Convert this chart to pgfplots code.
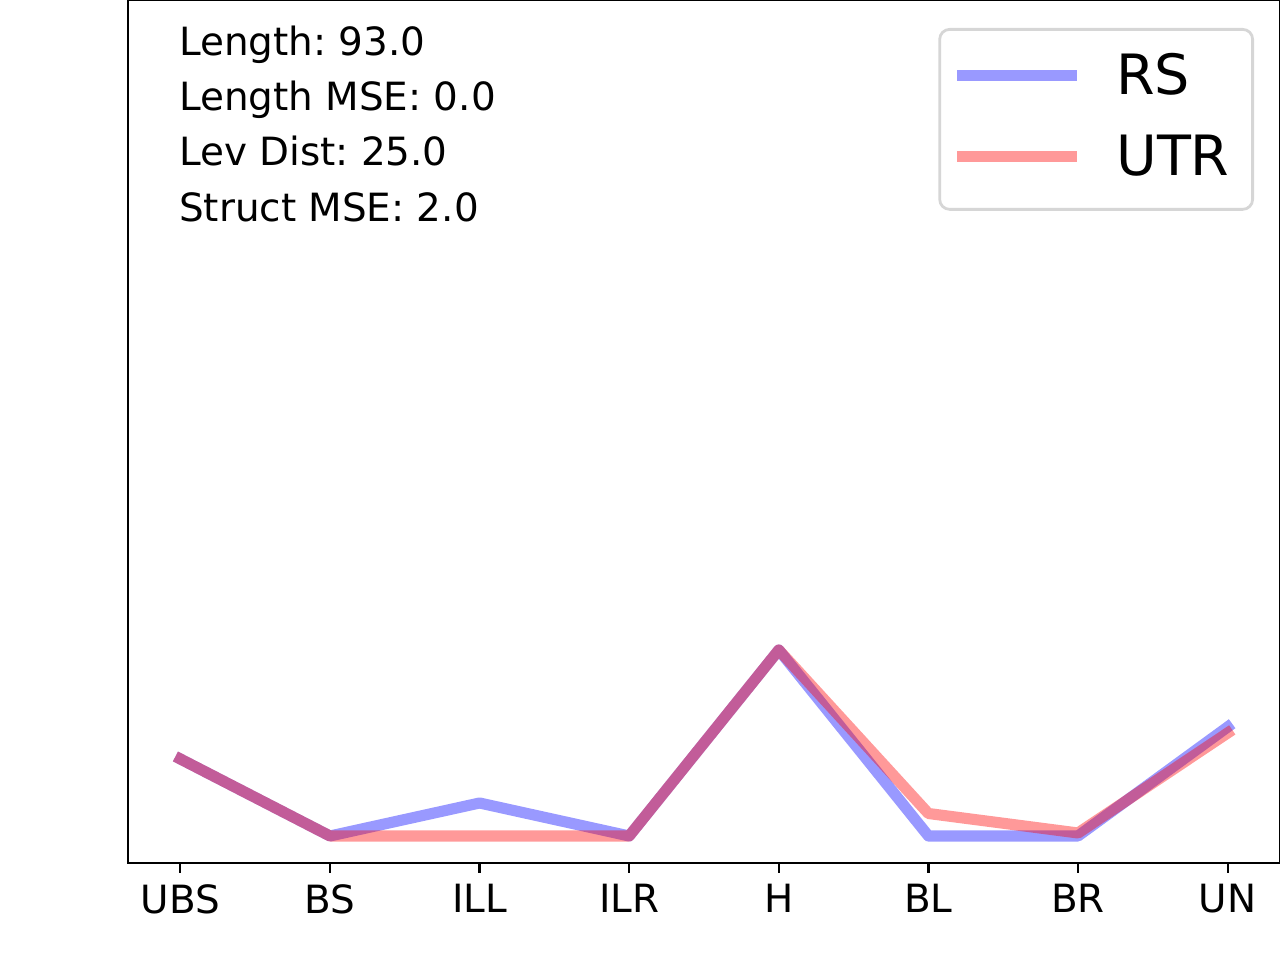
\documentclass[border=0pt]{standalone}
\usepackage{pgfplots}
\pgfplotsset{compat=1.18}
\usepackage{fontspec}
\setmainfont{DejaVu Sans}
\definecolor{legendedge}{HTML}{D6D6D6}
\frenchspacing

\begin{document}
\begin{tikzpicture}
\begin{axis}[
    scale only axis,
    width=414.72bp, height=310.68bp,
    xmin=-0.35, xmax=7.35,
    ymin=-27, ymax=836,
    axis line style={black, line width=0.8bp},
    xtick={0,...,7},
    xticklabels={UBS,BS,ILL,ILR,H,BL,BR,UN},
    xtick pos=bottom,
    ytick=\empty,
    tick align=outside,
    major tick length=3.5bp,
    every tick/.style={black, line width=0.8bp},
    xticklabel style={font=\fontsize{14bp}{16.8bp}\selectfont, inner sep=0pt, anchor=north, yshift=-4bp},
    legend style={
        at={(1,1)}, anchor=north east, xshift=-9.36bp, yshift=-10.08bp,
        draw=legendedge, line width=1bp, rounded corners=3.6bp, fill=white,
        font=\fontsize{20bp}{24bp}\selectfont,
        inner xsep=4.3bp, inner ysep=8.8bp,
        row sep=11.2bp, column sep=12.1bp,
        cells={anchor=base west},
        nodes={inner sep=0pt, text height=14.6bp, text depth=3.4bp},
    },
    legend image code/.code={
        \path (0bp,0bp) (43.2bp,0bp);
        \draw[#1, line cap=butt] (0bp,6.7bp) -- (43.2bp,6.7bp);
    },
]
% RS
\addplot[draw=blue, draw opacity=0.4, line width=4bp, line join=round, line cap=rect]
coordinates {(0,77) (1,0) (2,33) (3,0) (4,186) (5,0) (6,0) (7,109)};
\addlegendentry{RS}
% UTR
\addplot[draw=red, draw opacity=0.4, line width=4bp, line join=round, line cap=rect]
coordinates {(0,77) (1,0) (2,0) (3,0) (4,186) (5,22.5) (6,3) (7,103)};
\addlegendentry{UTR\rule{4bp}{0pt}}

\coordinate (sw) at (rel axis cs:0,0);
\coordinate (ne) at (rel axis cs:1,1);
\begin{scope}[font=\fontsize{14bp}{16.8bp}\selectfont]
\node[anchor=base west, inner sep=0pt] at ([xshift=18.2bp, yshift=-20.05bp]rel axis cs:0,1) {Length: 93.0};
\node[anchor=base west, inner sep=0pt] at ([xshift=18.2bp, yshift=-39.96bp]rel axis cs:0,1) {Length MSE: 0.0};
\node[anchor=base west, inner sep=0pt] at ([xshift=18.2bp, yshift=-59.76bp]rel axis cs:0,1) {Lev Dist: 25.0};
\node[anchor=base west, inner sep=0pt] at ([xshift=18.2bp, yshift=-79.8bp]rel axis cs:0,1) {Struct MSE: 2.0};
\end{scope}
\end{axis}
\pgfresetboundingbox
\useasboundingbox ([shift={(-46.08bp,-34.92bp)}]sw) rectangle (ne);
\end{tikzpicture}
\end{document}
